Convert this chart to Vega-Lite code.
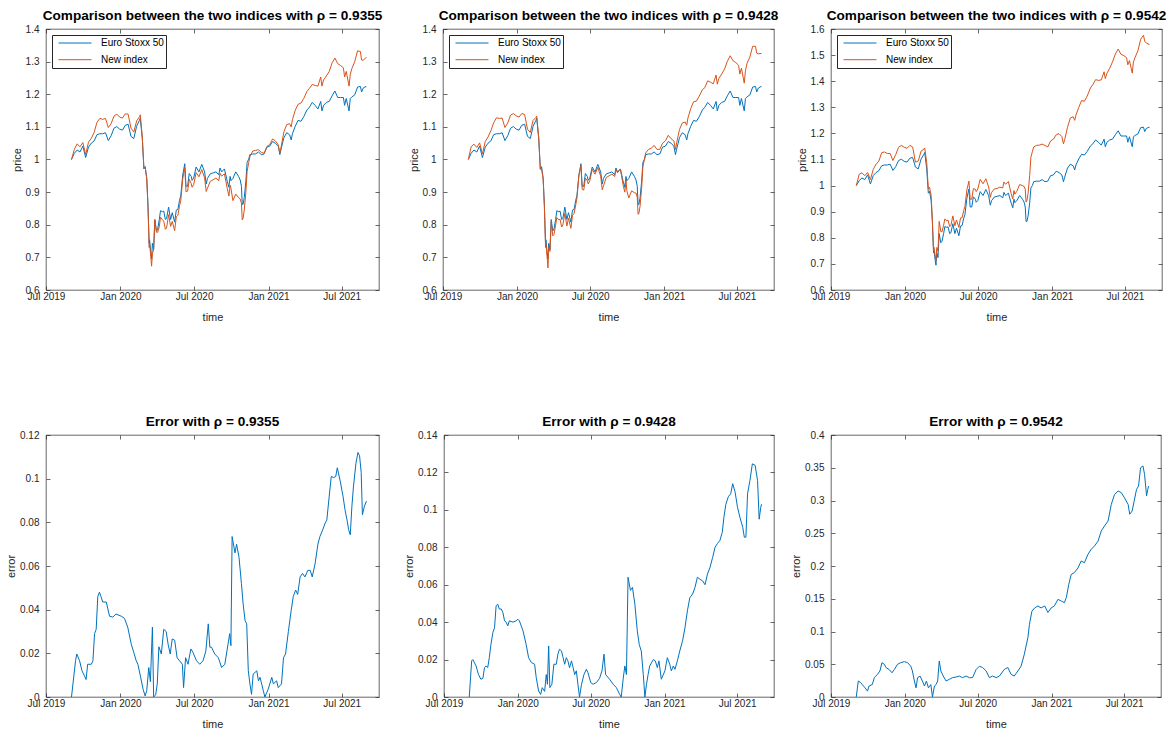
{
  "$schema": "https://vega.github.io/schema/vega-lite/v6.json",
  "autosize": {"type": "pad"},
  "padding": {"left": 5, "top": 9, "right": 5, "bottom": 5},
  "background": "white",
  "datasets": {
    "prices": [
      {"date":"2019-09-02","euro":1.000,"new1":1.000,"new2":1.000,"new3":1.000},
      {"date":"2019-09-09","euro":1.019,"new1":1.031,"new2":1.039,"new3":1.043},
      {"date":"2019-09-16","euro":1.029,"new1":1.048,"new2":1.047,"new3":1.049},
      {"date":"2019-09-23","euro":1.023,"new1":1.039,"new2":1.037,"new3":1.038},
      {"date":"2019-09-30","euro":1.041,"new1":1.052,"new2":1.051,"new3":1.050},
      {"date":"2019-10-07","euro":1.006,"new1":1.015,"new2":1.017,"new3":1.023},
      {"date":"2019-10-14","euro":1.038,"new1":1.053,"new2":1.055,"new3":1.062},
      {"date":"2019-10-21","euro":1.050,"new1":1.065,"new2":1.069,"new3":1.082},
      {"date":"2019-10-28","euro":1.057,"new1":1.083,"new2":1.088,"new3":1.094},
      {"date":"2019-11-04","euro":1.076,"new1":1.114,"new2":1.113,"new3":1.126},
      {"date":"2019-11-11","euro":1.079,"new1":1.126,"new2":1.128,"new3":1.129},
      {"date":"2019-11-18","euro":1.079,"new1":1.123,"new2":1.126,"new3":1.123},
      {"date":"2019-11-25","euro":1.082,"new1":1.126,"new2":1.127,"new3":1.123},
      {"date":"2019-12-02","euro":1.058,"new1":1.098,"new2":1.098,"new3":1.096},
      {"date":"2019-12-09","euro":1.073,"new1":1.110,"new2":1.112,"new3":1.119},
      {"date":"2019-12-16","euro":1.096,"new1":1.133,"new2":1.136,"new3":1.147},
      {"date":"2019-12-23","euro":1.101,"new1":1.139,"new2":1.141,"new3":1.154},
      {"date":"2019-12-30","euro":1.093,"new1":1.130,"new2":1.134,"new3":1.147},
      {"date":"2020-01-06","euro":1.090,"new1":1.127,"new2":1.130,"new3":1.143},
      {"date":"2020-01-13","euro":1.105,"new1":1.140,"new2":1.141,"new3":1.154},
      {"date":"2020-01-20","euro":1.108,"new1":1.139,"new2":1.138,"new3":1.148},
      {"date":"2020-01-27","euro":1.071,"new1":1.096,"new2":1.093,"new3":1.090},
      {"date":"2020-02-03","euro":1.064,"new1":1.084,"new2":1.083,"new3":1.094},
      {"date":"2020-02-10","euro":1.102,"new1":1.118,"new2":1.120,"new3":1.132},
      {"date":"2020-02-17","euro":1.120,"new1":1.131,"new2":1.129,"new3":1.140},
      {"date":"2020-02-19","euro":1.127,"new1":1.137,"new2":1.133,"new3":1.144},
      {"date":"2020-02-24","euro":1.064,"new1":1.069,"new2":1.067,"new3":1.088},
      {"date":"2020-02-28","euro":0.971,"new1":0.973,"new2":0.969,"new3":0.987},
      {"date":"2020-03-02","euro":0.978,"new1":0.978,"new2":0.973,"new3":0.994},
      {"date":"2020-03-06","euro":0.943,"new1":0.940,"new2":0.939,"new3":0.962},
      {"date":"2020-03-09","euro":0.863,"new1":0.854,"new2":0.859,"new3":0.868},
      {"date":"2020-03-12","euro":0.742,"new1":0.730,"new2":0.730,"new3":0.748},
      {"date":"2020-03-13","euro":0.754,"new1":0.744,"new2":0.744,"new3":0.764},
      {"date":"2020-03-16","euro":0.714,"new1":0.702,"new2":0.699,"new3":0.731},
      {"date":"2020-03-18","euro":0.695,"new1":0.673,"new2":0.668,"new3":0.713},
      {"date":"2020-03-20","euro":0.743,"new1":0.711,"new2":0.731,"new3":0.763},
      {"date":"2020-03-23","euro":0.724,"new1":0.724,"new2":0.718,"new3":0.748},
      {"date":"2020-03-26","euro":0.816,"new1":0.815,"new2":0.809,"new3":0.863},
      {"date":"2020-03-30","euro":0.781,"new1":0.777,"new2":0.766,"new3":0.824},
      {"date":"2020-04-02","euro":0.787,"new1":0.777,"new2":0.770,"new3":0.823},
      {"date":"2020-04-06","euro":0.816,"new1":0.794,"new2":0.799,"new3":0.848},
      {"date":"2020-04-09","euro":0.843,"new1":0.823,"new2":0.822,"new3":0.872},
      {"date":"2020-04-14","euro":0.840,"new1":0.815,"new2":0.815,"new3":0.865},
      {"date":"2020-04-17","euro":0.842,"new1":0.811,"new2":0.817,"new3":0.868},
      {"date":"2020-04-21","euro":0.816,"new1":0.786,"new2":0.793,"new3":0.843},
      {"date":"2020-04-24","euro":0.819,"new1":0.790,"new2":0.799,"new3":0.847},
      {"date":"2020-04-29","euro":0.854,"new1":0.831,"new2":0.835,"new3":0.884},
      {"date":"2020-05-04","euro":0.816,"new1":0.795,"new2":0.796,"new3":0.846},
      {"date":"2020-05-08","euro":0.837,"new1":0.810,"new2":0.820,"new3":0.868},
      {"date":"2020-05-14","euro":0.808,"new1":0.782,"new2":0.789,"new3":0.840},
      {"date":"2020-05-18","euro":0.845,"new1":0.824,"new2":0.829,"new3":0.876},
      {"date":"2020-05-22","euro":0.847,"new1":0.829,"new2":0.835,"new3":0.877},
      {"date":"2020-05-26","euro":0.875,"new1":0.858,"new2":0.861,"new3":0.905},
      {"date":"2020-05-29","euro":0.889,"new1":0.873,"new2":0.881,"new3":0.920},
      {"date":"2020-06-03","euro":0.953,"new1":0.941,"new2":0.953,"new3":0.985},
      {"date":"2020-06-08","euro":0.987,"new1":0.975,"new2":0.980,"new3":1.017},
      {"date":"2020-06-11","euro":0.918,"new1":0.901,"new2":0.909,"new3":0.948},
      {"date":"2020-06-15","euro":0.918,"new1":0.903,"new2":0.906,"new3":0.948},
      {"date":"2020-06-19","euro":0.957,"new1":0.939,"new2":0.943,"new3":0.988},
      {"date":"2020-06-24","euro":0.948,"new1":0.926,"new2":0.935,"new3":0.986},
      {"date":"2020-06-26","euro":0.936,"new1":0.915,"new2":0.925,"new3":0.977},
      {"date":"2020-06-30","euro":0.943,"new1":0.923,"new2":0.935,"new3":0.987},
      {"date":"2020-07-06","euro":0.977,"new1":0.960,"new2":0.970,"new3":1.024},
      {"date":"2020-07-13","euro":0.962,"new1":0.947,"new2":0.955,"new3":1.007},
      {"date":"2020-07-20","euro":0.985,"new1":0.969,"new2":0.976,"new3":1.026},
      {"date":"2020-07-27","euro":0.962,"new1":0.943,"new2":0.949,"new3":0.995},
      {"date":"2020-07-31","euro":0.925,"new1":0.902,"new2":0.907,"new3":0.955},
      {"date":"2020-08-03","euro":0.942,"new1":0.912,"new2":0.919,"new3":0.973},
      {"date":"2020-08-10","euro":0.956,"new1":0.933,"new2":0.945,"new3":0.987},
      {"date":"2020-08-17","euro":0.959,"new1":0.938,"new2":0.950,"new3":0.989},
      {"date":"2020-08-24","euro":0.962,"new1":0.943,"new2":0.955,"new3":0.994},
      {"date":"2020-08-31","euro":0.953,"new1":0.935,"new2":0.948,"new3":0.991},
      {"date":"2020-09-03","euro":0.974,"new1":0.958,"new2":0.969,"new3":1.014},
      {"date":"2020-09-07","euro":0.962,"new1":0.949,"new2":0.959,"new3":1.005},
      {"date":"2020-09-14","euro":0.971,"new1":0.956,"new2":0.971,"new3":1.016},
      {"date":"2020-09-21","euro":0.933,"new1":0.911,"new2":0.921,"new3":0.969},
      {"date":"2020-09-25","euro":0.915,"new1":0.888,"new2":0.900,"new3":0.949},
      {"date":"2020-09-28","euro":0.948,"new1":0.921,"new2":0.936,"new3":0.981},
      {"date":"2020-09-30","euro":0.935,"new1":0.912,"new2":0.905,"new3":0.967},
      {"date":"2020-10-05","euro":0.942,"new1":0.874,"new2":0.882,"new3":0.978},
      {"date":"2020-10-12","euro":0.962,"new1":0.894,"new2":0.904,"new3":1.004},
      {"date":"2020-10-19","euro":0.948,"new1":0.883,"new2":0.898,"new3":1.000},
      {"date":"2020-10-23","euro":0.937,"new1":0.879,"new2":0.897,"new3":0.997},
      {"date":"2020-10-26","euro":0.918,"new1":0.866,"new2":0.884,"new3":0.986},
      {"date":"2020-10-28","euro":0.863,"new1":0.815,"new2":0.832,"new3":0.937},
      {"date":"2020-10-30","euro":0.862,"new1":0.819,"new2":0.834,"new3":0.942},
      {"date":"2020-11-02","euro":0.883,"new1":0.845,"new2":0.857,"new3":0.970},
      {"date":"2020-11-06","euro":0.934,"new1":0.900,"new2":0.915,"new3":1.038},
      {"date":"2020-11-09","euro":0.991,"new1":0.963,"new2":0.979,"new3":1.109},
      {"date":"2020-11-13","euro":1.001,"new1":0.991,"new2":1.001,"new3":1.132},
      {"date":"2020-11-16","euro":1.015,"new1":1.009,"new2":1.020,"new3":1.148},
      {"date":"2020-11-23","euro":1.017,"new1":1.026,"new2":1.031,"new3":1.154},
      {"date":"2020-11-30","euro":1.017,"new1":1.028,"new2":1.035,"new3":1.155},
      {"date":"2020-12-07","euro":1.023,"new1":1.030,"new2":1.043,"new3":1.159},
      {"date":"2020-12-14","euro":1.015,"new1":1.022,"new2":1.031,"new3":1.154},
      {"date":"2020-12-21","euro":1.017,"new1":1.019,"new2":1.031,"new3":1.148},
      {"date":"2020-12-28","euro":1.038,"new1":1.040,"new2":1.050,"new3":1.171},
      {"date":"2021-01-04","euro":1.041,"new1":1.046,"new2":1.057,"new3":1.178},
      {"date":"2021-01-11","euro":1.055,"new1":1.063,"new2":1.074,"new3":1.195},
      {"date":"2021-01-18","euro":1.050,"new1":1.057,"new2":1.064,"new3":1.199},
      {"date":"2021-01-25","euro":1.041,"new1":1.045,"new2":1.057,"new3":1.188},
      {"date":"2021-01-29","euro":1.015,"new1":1.020,"new2":1.031,"new3":1.160},
      {"date":"2021-02-01","euro":1.032,"new1":1.038,"new2":1.051,"new3":1.176},
      {"date":"2021-02-08","euro":1.067,"new1":1.085,"new2":1.092,"new3":1.223},
      {"date":"2021-02-15","euro":1.082,"new1":1.107,"new2":1.112,"new3":1.259},
      {"date":"2021-02-22","euro":1.076,"new1":1.110,"new2":1.115,"new3":1.264},
      {"date":"2021-02-26","euro":1.060,"new1":1.100,"new2":1.105,"new3":1.250},
      {"date":"2021-03-01","euro":1.079,"new1":1.122,"new2":1.127,"new3":1.270},
      {"date":"2021-03-08","euro":1.102,"new1":1.151,"new2":1.156,"new3":1.299},
      {"date":"2021-03-15","euro":1.120,"new1":1.169,"new2":1.177,"new3":1.326},
      {"date":"2021-03-22","euro":1.117,"new1":1.173,"new2":1.179,"new3":1.323},
      {"date":"2021-03-29","euro":1.131,"new1":1.187,"new2":1.194,"new3":1.343},
      {"date":"2021-04-06","euro":1.152,"new1":1.209,"new2":1.214,"new3":1.374},
      {"date":"2021-04-12","euro":1.160,"new1":1.218,"new2":1.220,"new3":1.387},
      {"date":"2021-04-19","euro":1.175,"new1":1.230,"new2":1.241,"new3":1.406},
      {"date":"2021-04-26","euro":1.166,"new1":1.227,"new2":1.237,"new3":1.403},
      {"date":"2021-05-03","euro":1.155,"new1":1.225,"new2":1.232,"new3":1.405},
      {"date":"2021-05-10","euro":1.178,"new1":1.253,"new2":1.259,"new3":1.436},
      {"date":"2021-05-13","euro":1.149,"new1":1.225,"new2":1.231,"new3":1.410},
      {"date":"2021-05-17","euro":1.166,"new1":1.244,"new2":1.249,"new3":1.430},
      {"date":"2021-05-24","euro":1.175,"new1":1.256,"new2":1.262,"new3":1.450},
      {"date":"2021-05-31","euro":1.178,"new1":1.270,"new2":1.277,"new3":1.474},
      {"date":"2021-06-07","euro":1.195,"new1":1.296,"new2":1.301,"new3":1.504},
      {"date":"2021-06-14","euro":1.210,"new1":1.311,"new2":1.318,"new3":1.523},
      {"date":"2021-06-21","euro":1.190,"new1":1.294,"new2":1.303,"new3":1.503},
      {"date":"2021-06-28","euro":1.190,"new1":1.288,"new2":1.297,"new3":1.498},
      {"date":"2021-07-05","euro":1.190,"new1":1.281,"new2":1.289,"new3":1.490},
      {"date":"2021-07-08","euro":1.166,"new1":1.253,"new2":1.262,"new3":1.463},
      {"date":"2021-07-12","euro":1.187,"new1":1.270,"new2":1.280,"new3":1.479},
      {"date":"2021-07-19","euro":1.149,"new1":1.225,"new2":1.234,"new3":1.431},
      {"date":"2021-07-22","euro":1.187,"new1":1.261,"new2":1.272,"new3":1.474},
      {"date":"2021-07-26","euro":1.192,"new1":1.279,"new2":1.295,"new3":1.491},
      {"date":"2021-08-02","euro":1.198,"new1":1.300,"new2":1.314,"new3":1.516},
      {"date":"2021-08-09","euro":1.222,"new1":1.333,"new2":1.347,"new3":1.561},
      {"date":"2021-08-16","euro":1.224,"new1":1.331,"new2":1.347,"new3":1.576},
      {"date":"2021-08-19","euro":1.207,"new1":1.305,"new2":1.326,"new3":1.553},
      {"date":"2021-08-23","euro":1.219,"new1":1.304,"new2":1.324,"new3":1.546},
      {"date":"2021-08-30","euro":1.224,"new1":1.313,"new2":1.325,"new3":1.541},
      {"date":"2021-08-31","euro":1.223,"new1":1.312,"new2":1.325,"new3":1.543}
    ],
    "err1": [
      {"date":"2019-09-02","error":0},{"date":"2019-09-12","error":0.0166},{"date":"2019-09-15","error":0.0197},{"date":"2019-09-22","error":0.0166},
      {"date":"2019-09-28","error":0.012},{"date":"2019-10-04","error":0.0097},{"date":"2019-10-08","error":0.008},{"date":"2019-10-12","error":0.015},
      {"date":"2019-10-21","error":0.015},{"date":"2019-10-25","error":0.0166},{"date":"2019-10-29","error":0.029},{"date":"2019-11-02","error":0.031},
      {"date":"2019-11-06","error":0.046},{"date":"2019-11-10","error":0.048},{"date":"2019-11-14","error":0.046},{"date":"2019-11-18","error":0.0435},
      {"date":"2019-11-27","error":0.0435},{"date":"2019-12-05","error":0.037},{"date":"2019-12-13","error":0.0366},{"date":"2019-12-21","error":0.038},
      {"date":"2020-01-03","error":0.037},{"date":"2020-01-11","error":0.036},{"date":"2020-01-19","error":0.032},{"date":"2020-01-28","error":0.024},
      {"date":"2020-02-02","error":0.021},{"date":"2020-02-09","error":0.0166},{"date":"2020-02-13","error":0.015},{"date":"2020-02-20","error":0.009},
      {"date":"2020-02-26","error":0.0035},{"date":"2020-03-02","error":0.0005},{"date":"2020-03-06","error":0.003},{"date":"2020-03-11","error":0.0135},
      {"date":"2020-03-15","error":0.007},{"date":"2020-03-20","error":0.032},{"date":"2020-03-23","error":0},{"date":"2020-03-28","error":0.001},
      {"date":"2020-04-01","error":0.006},{"date":"2020-04-05","error":0.023},{"date":"2020-04-11","error":0.0197},{"date":"2020-04-17","error":0.031},
      {"date":"2020-04-23","error":0.030},{"date":"2020-04-28","error":0.024},{"date":"2020-05-03","error":0.0197},{"date":"2020-05-08","error":0.0266},
      {"date":"2020-05-14","error":0.026},{"date":"2020-05-20","error":0.018},{"date":"2020-05-26","error":0.0166},{"date":"2020-06-02","error":0.015},
      {"date":"2020-06-05","error":0.0043},{"date":"2020-06-10","error":0.018},{"date":"2020-06-16","error":0.015},{"date":"2020-06-23","error":0.022},
      {"date":"2020-06-28","error":0.0205},{"date":"2020-07-07","error":0.0166},{"date":"2020-07-15","error":0.015},{"date":"2020-07-23","error":0.0166},
      {"date":"2020-07-30","error":0.021},{"date":"2020-08-05","error":0.0335},{"date":"2020-08-09","error":0.0228},{"date":"2020-08-13","error":0.0228},
      {"date":"2020-08-21","error":0.0197},{"date":"2020-08-30","error":0.018},{"date":"2020-09-07","error":0.0135},{"date":"2020-09-15","error":0.015},
      {"date":"2020-09-27","error":0.029},{"date":"2020-09-30","error":0.0235},{"date":"2020-10-03","error":0.0735},{"date":"2020-10-10","error":0.066},
      {"date":"2020-10-14","error":0.070},{"date":"2020-10-20","error":0.064},{"date":"2020-10-26","error":0.052},{"date":"2020-10-30","error":0.043},
      {"date":"2020-11-04","error":0.035},{"date":"2020-11-08","error":0.0335},{"date":"2020-11-12","error":0.012},{"date":"2020-11-16","error":0.006},
      {"date":"2020-11-20","error":0.0012},{"date":"2020-11-24","error":0.0105},{"date":"2020-12-03","error":0.012},{"date":"2020-12-07","error":0.0074},
      {"date":"2020-12-11","error":0.009},{"date":"2020-12-19","error":0.003},{"date":"2020-12-23","error":0},{"date":"2020-12-31","error":0.0035},
      {"date":"2021-01-09","error":0.009},{"date":"2021-01-13","error":0.006},{"date":"2021-01-21","error":0.0074},{"date":"2021-01-25","error":0.0043},
      {"date":"2021-02-02","error":0.006},{"date":"2021-02-07","error":0.018},{"date":"2021-02-12","error":0.0197},{"date":"2021-02-19","error":0.030},
      {"date":"2021-02-26","error":0.0397},{"date":"2021-03-03","error":0.046},{"date":"2021-03-09","error":0.049},{"date":"2021-03-14","error":0.047},
      {"date":"2021-03-20","error":0.055},{"date":"2021-03-26","error":0.0566},{"date":"2021-04-01","error":0.055},{"date":"2021-04-08","error":0.058},
      {"date":"2021-04-14","error":0.058},{"date":"2021-04-19","error":0.055},{"date":"2021-04-26","error":0.061},{"date":"2021-05-03","error":0.070},
      {"date":"2021-05-08","error":0.0735},{"date":"2021-05-15","error":0.0766},{"date":"2021-05-21","error":0.0797},{"date":"2021-05-25","error":0.081},
      {"date":"2021-05-31","error":0.092},{"date":"2021-06-05","error":0.101},{"date":"2021-06-11","error":0.1005},{"date":"2021-06-16","error":0.101},
      {"date":"2021-06-20","error":0.105},{"date":"2021-06-27","error":0.099},{"date":"2021-07-04","error":0.092},{"date":"2021-07-09","error":0.0858},
      {"date":"2021-07-14","error":0.081},{"date":"2021-07-18","error":0.0766},{"date":"2021-07-22","error":0.0743},{"date":"2021-07-26","error":0.0874},
      {"date":"2021-07-30","error":0.0966},{"date":"2021-08-05","error":0.107},{"date":"2021-08-10","error":0.112},{"date":"2021-08-14","error":0.1105},
      {"date":"2021-08-18","error":0.1028},{"date":"2021-08-21","error":0.0835},{"date":"2021-08-26","error":0.0874},{"date":"2021-08-31","error":0.0897}
    ],
    "err2": [
      {"date":"2019-09-02","error":0},{"date":"2019-09-08","error":0.0193},{"date":"2019-09-11","error":0.020},{"date":"2019-09-19","error":0.0166},
      {"date":"2019-09-25","error":0.012},{"date":"2019-10-01","error":0.0095},{"date":"2019-10-06","error":0.010},{"date":"2019-10-10","error":0.0157},
      {"date":"2019-10-14","error":0.0166},{"date":"2019-10-18","error":0.0157},{"date":"2019-10-22","error":0.021},{"date":"2019-10-26","error":0.028},
      {"date":"2019-10-31","error":0.0345},{"date":"2019-11-04","error":0.037},{"date":"2019-11-08","error":0.0488},{"date":"2019-11-12","error":0.0496},
      {"date":"2019-11-16","error":0.047},{"date":"2019-11-21","error":0.047},{"date":"2019-11-25","error":0.045},{"date":"2019-11-29","error":0.0407},
      {"date":"2019-12-03","error":0.040},{"date":"2019-12-07","error":0.038},{"date":"2019-12-11","error":0.0407},{"date":"2019-12-20","error":0.040},
      {"date":"2019-12-28","error":0.0407},{"date":"2020-01-01","error":0.0416},{"date":"2020-01-05","error":0.0407},{"date":"2020-01-14","error":0.0354},
      {"date":"2020-01-22","error":0.028},{"date":"2020-01-28","error":0.021},{"date":"2020-02-04","error":0.0184},{"date":"2020-02-12","error":0.0175},
      {"date":"2020-02-16","error":0.0104},{"date":"2020-02-22","error":0.0032},{"date":"2020-02-27","error":0.0014},{"date":"2020-03-02","error":0.005},
      {"date":"2020-03-08","error":0.003},{"date":"2020-03-12","error":0.012},{"date":"2020-03-15","error":0.0068},{"date":"2020-03-18","error":0.0273},
      {"date":"2020-03-21","error":0.005},{"date":"2020-03-26","error":0.0068},{"date":"2020-03-31","error":0.0175},{"date":"2020-04-06","error":0.0175},
      {"date":"2020-04-10","error":0.0229},{"date":"2020-04-14","error":0.0255},{"date":"2020-04-19","error":0.0246},{"date":"2020-04-23","error":0.021},
      {"date":"2020-04-27","error":0.0175},{"date":"2020-05-01","error":0.021},{"date":"2020-05-05","error":0.0193},{"date":"2020-05-09","error":0.0157},
      {"date":"2020-05-14","error":0.0193},{"date":"2020-05-18","error":0.0157},{"date":"2020-05-22","error":0.012},{"date":"2020-05-26","error":0.014},
      {"date":"2020-05-30","error":0.0068},{"date":"2020-06-03","error":0},{"date":"2020-06-08","error":0.0068},{"date":"2020-06-14","error":0.012},
      {"date":"2020-06-20","error":0.0148},{"date":"2020-06-24","error":0.013},{"date":"2020-07-01","error":0.0077},{"date":"2020-07-07","error":0.0068},
      {"date":"2020-07-15","error":0.0077},{"date":"2020-07-23","error":0.010},{"date":"2020-07-29","error":0.014},{"date":"2020-08-03","error":0.0229},
      {"date":"2020-08-07","error":0.012},{"date":"2020-08-17","error":0.0095},{"date":"2020-08-26","error":0.0068},{"date":"2020-09-03","error":0.005},
      {"date":"2020-09-11","error":0.0014},{"date":"2020-09-15","error":0},{"date":"2020-09-20","error":0.010},{"date":"2020-09-24","error":0.0166},
      {"date":"2020-09-28","error":0.012},{"date":"2020-10-02","error":0.064},{"date":"2020-10-08","error":0.057},{"date":"2020-10-13","error":0.0586},
      {"date":"2020-10-19","error":0.0496},{"date":"2020-10-25","error":0.0354},{"date":"2020-10-30","error":0.028},{"date":"2020-11-04","error":0.0246},
      {"date":"2020-11-09","error":0.012},{"date":"2020-11-13","error":0},{"date":"2020-11-17","error":0.0068},{"date":"2020-11-21","error":0.012},
      {"date":"2020-11-25","error":0.0166},{"date":"2020-12-04","error":0.020},{"date":"2020-12-09","error":0.0193},{"date":"2020-12-14","error":0.0157},
      {"date":"2020-12-18","error":0.0193},{"date":"2020-12-24","error":0.0095},{"date":"2021-01-02","error":0.014},{"date":"2021-01-08","error":0.021},
      {"date":"2021-01-14","error":0.0175},{"date":"2021-01-18","error":0.014},{"date":"2021-01-23","error":0.0166},{"date":"2021-01-27","error":0.0148},
      {"date":"2021-02-02","error":0.0193},{"date":"2021-02-08","error":0.0246},{"date":"2021-02-15","error":0.030},{"date":"2021-02-21","error":0.037},
      {"date":"2021-02-27","error":0.046},{"date":"2021-03-05","error":0.053},{"date":"2021-03-12","error":0.055},{"date":"2021-03-18","error":0.0586},
      {"date":"2021-03-24","error":0.064},{"date":"2021-03-30","error":0.063},{"date":"2021-04-06","error":0.062},{"date":"2021-04-12","error":0.060},
      {"date":"2021-04-18","error":0.0657},{"date":"2021-04-24","error":0.069},{"date":"2021-05-01","error":0.0746},{"date":"2021-05-07","error":0.080},
      {"date":"2021-05-13","error":0.082},{"date":"2021-05-19","error":0.0836},{"date":"2021-05-25","error":0.088},{"date":"2021-05-29","error":0.096},
      {"date":"2021-06-03","error":0.103},{"date":"2021-06-09","error":0.107},{"date":"2021-06-15","error":0.1086},{"date":"2021-06-20","error":0.114},
      {"date":"2021-06-26","error":0.1095},{"date":"2021-07-02","error":0.1014},{"date":"2021-07-08","error":0.096},{"date":"2021-07-15","error":0.0907},
      {"date":"2021-07-19","error":0.0854},{"date":"2021-07-23","error":0.0854},{"date":"2021-07-27","error":0.1086},{"date":"2021-08-02","error":0.1157},
      {"date":"2021-08-08","error":0.1246},{"date":"2021-08-15","error":0.1238},{"date":"2021-08-21","error":0.1157},{"date":"2021-08-25","error":0.095},
      {"date":"2021-08-29","error":0.1014},{"date":"2021-08-31","error":0.103}
    ],
    "err3": [
      {"date":"2019-09-02","error":0},{"date":"2019-09-07","error":0.0244},{"date":"2019-09-13","error":0.022},{"date":"2019-09-17","error":0.019},
      {"date":"2019-09-24","error":0.014},{"date":"2019-09-30","error":0.009},{"date":"2019-10-04","error":0.0168},{"date":"2019-10-12","error":0.019},
      {"date":"2019-10-17","error":0.0295},{"date":"2019-10-25","error":0.0346},{"date":"2019-10-31","error":0.0397},{"date":"2019-11-05","error":0.0524},
      {"date":"2019-11-11","error":0.050},{"date":"2019-11-15","error":0.045},{"date":"2019-11-23","error":0.042},{"date":"2019-11-30","error":0.037},
      {"date":"2019-12-06","error":0.042},{"date":"2019-12-14","error":0.050},{"date":"2019-12-22","error":0.0524},{"date":"2019-12-31","error":0.054},
      {"date":"2020-01-08","error":0.0524},{"date":"2020-01-16","error":0.047},{"date":"2020-01-20","error":0.0397},{"date":"2020-01-25","error":0.0244},
      {"date":"2020-01-29","error":0.014},{"date":"2020-02-02","error":0.0295},{"date":"2020-02-08","error":0.032},{"date":"2020-02-14","error":0.0244},
      {"date":"2020-02-19","error":0.0168},{"date":"2020-02-24","error":0.0244},{"date":"2020-02-29","error":0.014},{"date":"2020-03-06","error":0.019},
      {"date":"2020-03-10","error":0},{"date":"2020-03-15","error":0.0168},{"date":"2020-03-19","error":0.019},{"date":"2020-03-23","error":0.0244},
      {"date":"2020-03-27","error":0.055},{"date":"2020-03-31","error":0.0397},{"date":"2020-04-06","error":0.032},{"date":"2020-04-13","error":0.0244},
      {"date":"2020-04-21","error":0.027},{"date":"2020-04-29","error":0.0295},{"date":"2020-05-08","error":0.0305},{"date":"2020-05-16","error":0.032},
      {"date":"2020-05-24","error":0.0295},{"date":"2020-06-02","error":0.032},{"date":"2020-06-10","error":0.0295},{"date":"2020-06-18","error":0.0295},
      {"date":"2020-06-27","error":0.042},{"date":"2020-07-05","error":0.047},{"date":"2020-07-13","error":0.045},{"date":"2020-07-22","error":0.0397},
      {"date":"2020-07-30","error":0.0295},{"date":"2020-08-07","error":0.032},{"date":"2020-08-16","error":0.0295},{"date":"2020-08-24","error":0.032},
      {"date":"2020-09-05","error":0.042},{"date":"2020-09-14","error":0.045},{"date":"2020-09-22","error":0.0346},{"date":"2020-09-30","error":0.032},
      {"date":"2020-10-09","error":0.0397},{"date":"2020-10-17","error":0.047},{"date":"2020-10-25","error":0.065},{"date":"2020-11-03","error":0.0906},
      {"date":"2020-11-07","error":0.111},{"date":"2020-11-13","error":0.131},{"date":"2020-11-20","error":0.136},{"date":"2020-11-28","error":0.139},
      {"date":"2020-12-06","error":0.136},{"date":"2020-12-15","error":0.139},{"date":"2020-12-23","error":0.129},{"date":"2020-12-31","error":0.136},
      {"date":"2021-01-08","error":0.139},{"date":"2021-01-17","error":0.149},{"date":"2021-01-25","error":0.1466},{"date":"2021-02-02","error":0.144},
      {"date":"2021-02-07","error":0.152},{"date":"2021-02-13","error":0.172},{"date":"2021-02-19","error":0.187},{"date":"2021-02-27","error":0.190},
      {"date":"2021-03-08","error":0.197},{"date":"2021-03-16","error":0.2077},{"date":"2021-03-24","error":0.205},{"date":"2021-04-02","error":0.218},
      {"date":"2021-04-10","error":0.2255},{"date":"2021-04-18","error":0.2305},{"date":"2021-04-27","error":0.238},{"date":"2021-05-05","error":0.2535},
      {"date":"2021-05-13","error":0.261},{"date":"2021-05-22","error":0.2687},{"date":"2021-05-30","error":0.294},{"date":"2021-06-07","error":0.309},
      {"date":"2021-06-16","error":0.3145},{"date":"2021-06-24","error":0.312},{"date":"2021-07-02","error":0.304},{"date":"2021-07-11","error":0.294},
      {"date":"2021-07-15","error":0.279},{"date":"2021-07-21","error":0.284},{"date":"2021-07-26","error":0.299},{"date":"2021-08-01","error":0.317},
      {"date":"2021-08-06","error":0.322},{"date":"2021-08-11","error":0.350},{"date":"2021-08-17","error":0.3527},{"date":"2021-08-21","error":0.340},
      {"date":"2021-08-26","error":0.307},{"date":"2021-08-29","error":0.317},{"date":"2021-08-31","error":0.322}
    ]
  },
  "vconcat": [
    {
      "hconcat": [
        {
          "width": 333, "height": 261,
          "title": "Comparison between the two indices with ρ = 0.9355",
          "data": {"name": "prices"},
          "layer": [
            {"mark": {"type": "line", "strokeWidth": 1},
             "encoding": {
               "x": {"field": "date", "type": "temporal", "scale": {"type": "utc", "domain": [{"year": 2019, "month": 7, "date": 1, "utc": true}, {"year": 2021, "month": 10, "date": 1, "utc": true}]},
                     "axis": {"values": [{"year": 2019, "month": 7, "date": 1, "utc": true}, {"year": 2020, "month": 1, "date": 1, "utc": true}, {"year": 2020, "month": 7, "date": 1, "utc": true}, {"year": 2021, "month": 1, "date": 1, "utc": true}, {"year": 2021, "month": 7, "date": 1, "utc": true}], "format": "%b %Y", "title": "time"}},
               "y": {"field": "euro", "type": "quantitative", "scale": {"domain": [0.6, 1.4]},
                     "axis": {"values": [0.6, 0.7, 0.8, 0.9, 1, 1.1, 1.2, 1.3, 1.4], "format": ".1~f", "title": "price"}},
               "color": {"datum": "Euro Stoxx 50", "type": "nominal", "scale": {"domain": ["Euro Stoxx 50", "New index"], "range": ["#0072BD", "#D95319"]}}
             }},
            {"mark": {"type": "line", "strokeWidth": 1},
             "encoding": {
               "x": {"field": "date", "type": "temporal", "scale": {"type": "utc", "domain": [{"year": 2019, "month": 7, "date": 1, "utc": true}, {"year": 2021, "month": 10, "date": 1, "utc": true}]},
                     "axis": {"orient": "top", "labels": false, "title": null, "values": [{"year": 2019, "month": 7, "date": 1, "utc": true}, {"year": 2020, "month": 1, "date": 1, "utc": true}, {"year": 2020, "month": 7, "date": 1, "utc": true}, {"year": 2021, "month": 1, "date": 1, "utc": true}, {"year": 2021, "month": 7, "date": 1, "utc": true}]}},
               "y": {"field": "new1", "type": "quantitative", "scale": {"domain": [0.6, 1.4]},
                     "axis": {"orient": "right", "labels": false, "title": null, "values": [0.6, 0.7, 0.8, 0.9, 1, 1.1, 1.2, 1.3, 1.4]}},
               "color": {"datum": "New index", "type": "nominal"}
             }}
          ],
          "resolve": {"axis": {"x": "independent", "y": "independent"}}
        },
        {
          "hconcat": [
            {
              "width": 331, "height": 261,
              "title": "Comparison between the two indices with ρ = 0.9428",
              "data": {"name": "prices"},
              "layer": [
                {"mark": {"type": "line", "strokeWidth": 1},
                 "encoding": {
                   "x": {"field": "date", "type": "temporal", "scale": {"type": "utc", "domain": [{"year": 2019, "month": 7, "date": 1, "utc": true}, {"year": 2021, "month": 10, "date": 1, "utc": true}]},
                         "axis": {"values": [{"year": 2019, "month": 7, "date": 1, "utc": true}, {"year": 2020, "month": 1, "date": 1, "utc": true}, {"year": 2020, "month": 7, "date": 1, "utc": true}, {"year": 2021, "month": 1, "date": 1, "utc": true}, {"year": 2021, "month": 7, "date": 1, "utc": true}], "format": "%b %Y", "title": "time"}},
                   "y": {"field": "euro", "type": "quantitative", "scale": {"domain": [0.6, 1.4]},
                         "axis": {"values": [0.6, 0.7, 0.8, 0.9, 1, 1.1, 1.2, 1.3, 1.4], "format": ".1~f", "title": "price"}},
                   "color": {"datum": "Euro Stoxx 50", "type": "nominal", "scale": {"domain": ["Euro Stoxx 50", "New index"], "range": ["#0072BD", "#D95319"]}}
                 }},
                {"mark": {"type": "line", "strokeWidth": 1},
                 "encoding": {
                   "x": {"field": "date", "type": "temporal", "scale": {"type": "utc", "domain": [{"year": 2019, "month": 7, "date": 1, "utc": true}, {"year": 2021, "month": 10, "date": 1, "utc": true}]},
                         "axis": {"orient": "top", "labels": false, "title": null, "values": [{"year": 2019, "month": 7, "date": 1, "utc": true}, {"year": 2020, "month": 1, "date": 1, "utc": true}, {"year": 2020, "month": 7, "date": 1, "utc": true}, {"year": 2021, "month": 1, "date": 1, "utc": true}, {"year": 2021, "month": 7, "date": 1, "utc": true}]}},
                   "y": {"field": "new2", "type": "quantitative", "scale": {"domain": [0.6, 1.4]},
                         "axis": {"orient": "right", "labels": false, "title": null, "values": [0.6, 0.7, 0.8, 0.9, 1, 1.1, 1.2, 1.3, 1.4]}},
                   "color": {"datum": "New index", "type": "nominal"}
                 }}
              ],
              "resolve": {"axis": {"x": "independent", "y": "independent"}}
            },
            {
              "width": 331, "height": 261,
              "title": "Comparison between the two indices with ρ = 0.9542",
              "data": {"name": "prices"},
              "layer": [
                {"mark": {"type": "line", "strokeWidth": 1},
                 "encoding": {
                   "x": {"field": "date", "type": "temporal", "scale": {"type": "utc", "domain": [{"year": 2019, "month": 7, "date": 1, "utc": true}, {"year": 2021, "month": 10, "date": 1, "utc": true}]},
                         "axis": {"values": [{"year": 2019, "month": 7, "date": 1, "utc": true}, {"year": 2020, "month": 1, "date": 1, "utc": true}, {"year": 2020, "month": 7, "date": 1, "utc": true}, {"year": 2021, "month": 1, "date": 1, "utc": true}, {"year": 2021, "month": 7, "date": 1, "utc": true}], "format": "%b %Y", "title": "time"}},
                   "y": {"field": "euro", "type": "quantitative", "scale": {"domain": [0.6, 1.6]},
                         "axis": {"values": [0.6, 0.7, 0.8, 0.9, 1, 1.1, 1.2, 1.3, 1.4, 1.5, 1.6], "format": ".1~f", "title": "price"}},
                   "color": {"datum": "Euro Stoxx 50", "type": "nominal", "scale": {"domain": ["Euro Stoxx 50", "New index"], "range": ["#0072BD", "#D95319"]}}
                 }},
                {"mark": {"type": "line", "strokeWidth": 1},
                 "encoding": {
                   "x": {"field": "date", "type": "temporal", "scale": {"type": "utc", "domain": [{"year": 2019, "month": 7, "date": 1, "utc": true}, {"year": 2021, "month": 10, "date": 1, "utc": true}]},
                         "axis": {"orient": "top", "labels": false, "title": null, "values": [{"year": 2019, "month": 7, "date": 1, "utc": true}, {"year": 2020, "month": 1, "date": 1, "utc": true}, {"year": 2020, "month": 7, "date": 1, "utc": true}, {"year": 2021, "month": 1, "date": 1, "utc": true}, {"year": 2021, "month": 7, "date": 1, "utc": true}]}},
                   "y": {"field": "new3", "type": "quantitative", "scale": {"domain": [0.6, 1.6]},
                         "axis": {"orient": "right", "labels": false, "title": null, "values": [0.6, 0.7, 0.8, 0.9, 1, 1.1, 1.2, 1.3, 1.4, 1.5, 1.6]}},
                   "color": {"datum": "New index", "type": "nominal"}
                 }}
              ],
              "resolve": {"axis": {"x": "independent", "y": "independent"}}
            }
          ],
          "spacing": 57,
          "bounds": "flush",
          "resolve": {"scale": {"color": "independent"}, "legend": {"color": "independent"}}
        }
      ],
      "spacing": 64,
      "bounds": "flush",
      "resolve": {"scale": {"color": "independent"}, "legend": {"color": "independent"}}
    },
    {
      "hconcat": [
        {
          "width": 333, "height": 262,
          "title": "Error with ρ = 0.9355",
          "data": {"name": "err1"},
          "layer": [
            {"mark": {"type": "line", "strokeWidth": 1, "color": "#0072BD"},
             "encoding": {
               "x": {"field": "date", "type": "temporal", "scale": {"type": "utc", "domain": [{"year": 2019, "month": 7, "date": 1, "utc": true}, {"year": 2021, "month": 10, "date": 1, "utc": true}]},
                     "axis": {"values": [{"year": 2019, "month": 7, "date": 1, "utc": true}, {"year": 2020, "month": 1, "date": 1, "utc": true}, {"year": 2020, "month": 7, "date": 1, "utc": true}, {"year": 2021, "month": 1, "date": 1, "utc": true}, {"year": 2021, "month": 7, "date": 1, "utc": true}], "format": "%b %Y", "title": "time"}},
               "y": {"field": "error", "type": "quantitative", "scale": {"domain": [0, 0.12]},
                     "axis": {"values": [0, 0.02, 0.04, 0.06, 0.08, 0.1, 0.12], "format": ".2~f", "title": "error"}}
             }},
            {"mark": {"type": "line", "opacity": 0},
             "encoding": {
               "x": {"field": "date", "type": "temporal", "scale": {"type": "utc", "domain": [{"year": 2019, "month": 7, "date": 1, "utc": true}, {"year": 2021, "month": 10, "date": 1, "utc": true}]},
                     "axis": {"orient": "top", "labels": false, "title": null, "values": [{"year": 2019, "month": 7, "date": 1, "utc": true}, {"year": 2020, "month": 1, "date": 1, "utc": true}, {"year": 2020, "month": 7, "date": 1, "utc": true}, {"year": 2021, "month": 1, "date": 1, "utc": true}, {"year": 2021, "month": 7, "date": 1, "utc": true}]}},
               "y": {"field": "error", "type": "quantitative", "scale": {"domain": [0, 0.12]},
                     "axis": {"orient": "right", "labels": false, "title": null, "values": [0, 0.02, 0.04, 0.06, 0.08, 0.1, 0.12]}}
             }}
          ],
          "resolve": {"axis": {"x": "independent", "y": "independent"}}
        },
        {
          "hconcat": [
            {
              "width": 330, "height": 262,
              "title": "Error with ρ = 0.9428",
              "data": {"name": "err2"},
              "layer": [
                {"mark": {"type": "line", "strokeWidth": 1, "color": "#0072BD"},
                 "encoding": {
                   "x": {"field": "date", "type": "temporal", "scale": {"type": "utc", "domain": [{"year": 2019, "month": 7, "date": 1, "utc": true}, {"year": 2021, "month": 10, "date": 1, "utc": true}]},
                         "axis": {"values": [{"year": 2019, "month": 7, "date": 1, "utc": true}, {"year": 2020, "month": 1, "date": 1, "utc": true}, {"year": 2020, "month": 7, "date": 1, "utc": true}, {"year": 2021, "month": 1, "date": 1, "utc": true}, {"year": 2021, "month": 7, "date": 1, "utc": true}], "format": "%b %Y", "title": "time"}},
                   "y": {"field": "error", "type": "quantitative", "scale": {"domain": [0, 0.14]},
                         "axis": {"values": [0, 0.02, 0.04, 0.06, 0.08, 0.1, 0.12, 0.14], "format": ".2~f", "title": "error"}}
                 }},
                {"mark": {"type": "line", "opacity": 0},
                 "encoding": {
                   "x": {"field": "date", "type": "temporal", "scale": {"type": "utc", "domain": [{"year": 2019, "month": 7, "date": 1, "utc": true}, {"year": 2021, "month": 10, "date": 1, "utc": true}]},
                         "axis": {"orient": "top", "labels": false, "title": null, "values": [{"year": 2019, "month": 7, "date": 1, "utc": true}, {"year": 2020, "month": 1, "date": 1, "utc": true}, {"year": 2020, "month": 7, "date": 1, "utc": true}, {"year": 2021, "month": 1, "date": 1, "utc": true}, {"year": 2021, "month": 7, "date": 1, "utc": true}]}},
                   "y": {"field": "error", "type": "quantitative", "scale": {"domain": [0, 0.14]},
                         "axis": {"orient": "right", "labels": false, "title": null, "values": [0, 0.02, 0.04, 0.06, 0.08, 0.1, 0.12, 0.14]}}
                 }}
              ],
              "resolve": {"axis": {"x": "independent", "y": "independent"}}
            },
            {
              "width": 330, "height": 262,
              "title": "Error with ρ = 0.9542",
              "data": {"name": "err3"},
              "layer": [
                {"mark": {"type": "line", "strokeWidth": 1, "color": "#0072BD"},
                 "encoding": {
                   "x": {"field": "date", "type": "temporal", "scale": {"type": "utc", "domain": [{"year": 2019, "month": 7, "date": 1, "utc": true}, {"year": 2021, "month": 10, "date": 1, "utc": true}]},
                         "axis": {"values": [{"year": 2019, "month": 7, "date": 1, "utc": true}, {"year": 2020, "month": 1, "date": 1, "utc": true}, {"year": 2020, "month": 7, "date": 1, "utc": true}, {"year": 2021, "month": 1, "date": 1, "utc": true}, {"year": 2021, "month": 7, "date": 1, "utc": true}], "format": "%b %Y", "title": "time"}},
                   "y": {"field": "error", "type": "quantitative", "scale": {"domain": [0, 0.4]},
                         "axis": {"values": [0, 0.05, 0.1, 0.15, 0.2, 0.25, 0.3, 0.35, 0.4], "format": ".2~f", "title": "error"}}
                 }},
                {"mark": {"type": "line", "opacity": 0},
                 "encoding": {
                   "x": {"field": "date", "type": "temporal", "scale": {"type": "utc", "domain": [{"year": 2019, "month": 7, "date": 1, "utc": true}, {"year": 2021, "month": 10, "date": 1, "utc": true}]},
                         "axis": {"orient": "top", "labels": false, "title": null, "values": [{"year": 2019, "month": 7, "date": 1, "utc": true}, {"year": 2020, "month": 1, "date": 1, "utc": true}, {"year": 2020, "month": 7, "date": 1, "utc": true}, {"year": 2021, "month": 1, "date": 1, "utc": true}, {"year": 2021, "month": 7, "date": 1, "utc": true}]}},
                   "y": {"field": "error", "type": "quantitative", "scale": {"domain": [0, 0.4]},
                         "axis": {"orient": "right", "labels": false, "title": null, "values": [0, 0.05, 0.1, 0.15, 0.2, 0.25, 0.3, 0.35, 0.4]}}
                 }}
              ],
              "resolve": {"axis": {"x": "independent", "y": "independent"}}
            }
          ],
          "spacing": 57,
          "bounds": "flush"
        }
      ],
      "spacing": 65,
      "bounds": "flush"
    }
  ],
  "spacing": 406,
  "bounds": "flush",
  "resolve": {"scale": {"color": "independent"}, "legend": {"color": "independent"}},
  "config": {
    "font": "Liberation Sans",
    "view": {"stroke": "#262626", "strokeWidth": 0.7},
    "axis": {
      "domain": false, "grid": false, "ticks": true, "tickSize": -4, "tickColor": "#262626", "tickWidth": 0.7,
      "labelFont": "Liberation Sans", "labelFontSize": 10, "labelColor": "#262626",
      "labelFlush": false, "labelOverlap": false, "labelBound": false,
      "titleFont": "Liberation Sans", "titleFontSize": 11, "titleFontWeight": "normal", "titleColor": "#262626"
    },
    "axisX": {"labelPadding": 5, "titlePadding": 10},
    "axisY": {"labelPadding": 11, "titlePadding": 3},
    "title": {"font": "Liberation Sans", "fontSize": 13.6, "fontWeight": "bold", "color": "#000000", "offset": 1, "baseline": "alphabetic"},
    "legend": {
      "orient": "top-left", "offset": 6, "title": null, "direction": "vertical",
      "symbolType": "stroke", "symbolSize": 1089, "symbolStrokeWidth": 1, "clipHeight": 12,
      "rowPadding": 4.7, "padding": 2, "symbolOffset": 4, "labelOffset": 9,
      "strokeColor": "#262626", "fillColor": "white",
      "labelFont": "Liberation Sans", "labelFontSize": 10, "labelColor": "#000000"
    }
  }
}
